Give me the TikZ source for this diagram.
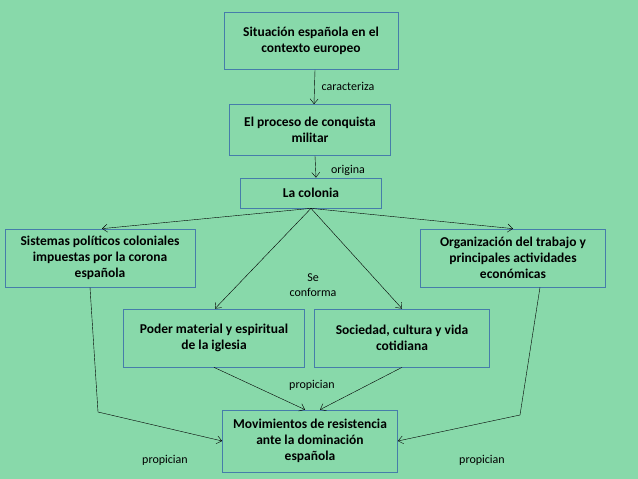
\documentclass[tikz,border=0pt]{standalone}
\usepackage{fontspec}
\setmainfont{Carlito}
\usetikzlibrary{arrows.meta}
\definecolor{bgGreen}{RGB}{136,217,170}
\definecolor{boxBlue}{RGB}{70,125,170}
\begin{document}
\begin{tikzpicture}[x=1pt,y=-1pt,
		MyBox/.style={draw=boxBlue, line width=0.7pt, minimum height=#1, align=center,
			font=\fontsize{13.5}{16}\selectfont\bfseries, inner sep=2pt},
		MyLabel/.style={font=\fontsize{12}{15}\selectfont, align=center},
		-{Straight Barb[length=5pt,width=8pt]},
	]
	\fill[bgGreen] (0,0) rectangle (638,479);
	\useasboundingbox (0,0) rectangle (638,479);
	\node [MyBox=57pt, minimum width=174pt] (sit) at (311,41) {Situación española en el\\contexto europeo};
	\node [MyBox=51pt, minimum width=161pt] (proc) at (310,130) {El proceso de conquista\\militar};
	\node [MyBox=30pt, minimum width=141pt] (col) at (311,193) {La colonia};
	\node [MyBox=58pt, minimum width=190pt] (sis) at (100,258) {Sistemas políticos coloniales\\impuestas por la corona\\española};
	\node [MyBox=58pt, minimum width=185pt] (org) at (513,258) {Organización del trabajo y\\principales actividades\\económicas};
	\node [MyBox=58pt, minimum width=181pt] (pod) at (214,338) {Poder material y espiritual\\de la iglesia};
	\node [MyBox=58pt, minimum width=175pt] (soc) at (402,338) {Sociedad, cultura y vida\\cotidiana};
	\node [MyBox=62pt, minimum width=175pt] (mov) at (310,441) {Movimientos de resistencia\\ante la dominación\\española};
	\coordinate (bendL) at (98,412);
	\coordinate (bendR) at (520,415);
	% labels
	\node [MyLabel] (l1) at (348,86) {caracteriza};
	\node [MyLabel] (l2) at (348,170) {origina};
	\node [MyLabel] (l3) at (313,285) {Se\\conforma};
	\node [MyLabel] (l4) at (312,385) {propician};
	\node [MyLabel] (l5) at (165,460) {propician};
	\node [MyLabel] (l6) at (482,460) {propician};
	% connectors
	\draw ([xshift=4pt]sit.south) -- ([xshift=4pt]proc.north);
	\draw ([xshift=5pt]proc.south) -- ([xshift=5pt]col.north);
	\draw (col.south) -- ([xshift=2pt]sis.north);
	\draw (col.south) -- (org.north);
	\draw (col.south) -- ([xshift=1pt]pod.north);
	\draw (col.south) -- (soc.north);
	\draw[-] ([xshift=-10pt]sis.south) -- (bendL);
	\draw (bendL) -- (mov.west);
	\draw[-] ([xshift=27pt]org.south) -- (bendR);
	\draw (bendR) -- (mov.east);
	\draw (pod.south) -- ([xshift=-5pt]mov.north);
	\draw (soc.south) -- ([xshift=10pt]mov.north);
\end{tikzpicture}
\end{document}
